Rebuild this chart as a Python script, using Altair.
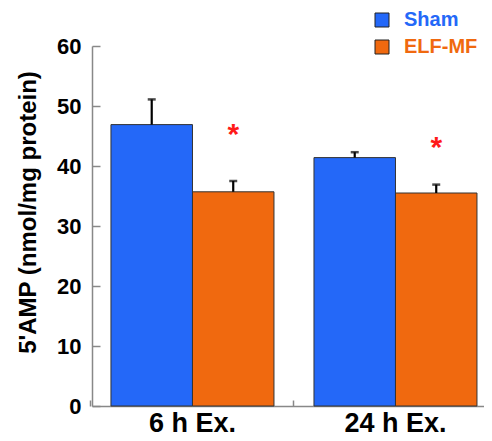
import altair as alt
import pandas as pd

groups = ["6 h Ex.", "24 h Ex."]
series = ["Sham", "ELF-MF"]
sham_mean = [46.9, 41.4]
sham_err = [4.2, 0.9]
elf_mean = [35.7, 35.5]
elf_err = [1.8, 1.4]
sig_y = [46.0, 43.9]

BLUE = "#2468f8"
ORANGE = "#f0690f"
FONT = "Liberation Sans"

rows = []
for i, g in enumerate(groups):
    rows.append({"group": g, "series": "Sham", "mean": sham_mean[i], "upper": sham_mean[i] + sham_err[i]})
    rows.append({"group": g, "series": "ELF-MF", "mean": elf_mean[i], "upper": elf_mean[i] + elf_err[i]})
df = pd.DataFrame(rows)
sig = pd.DataFrame({"group": groups, "series": ["ELF-MF", "ELF-MF"], "y": sig_y, "t": ["*", "*"]})

x_enc = alt.X(
    "group:N", sort=groups, title=None,
    scale=alt.Scale(paddingInner=0.197, paddingOuter=0.064, align=0.73),
    axis=alt.Axis(
        bandPosition=-0.123, labelAngle=0,
        labelFont=FONT, labelFontSize=27, labelFontWeight="bold", labelColor="black",
        labelPadding=10, labelBaseline="top",
        domainColor="#888888", domainWidth=1.5,
        tickColor="#888888", tickWidth=1.5, tickSize=alt.ExprRef("-6"),
    ),
)
xo = alt.XOffset("series:N", sort=series, scale=alt.Scale(paddingInner=0, paddingOuter=0))
y_scale = alt.Scale(domain=[0, 60], nice=False)

bars = alt.Chart(df).mark_bar(stroke="#333333", strokeWidth=1).encode(
    x=x_enc, xOffset=xo,
    y=alt.Y("mean:Q", scale=y_scale, title="5'AMP (nmol/mg protein)",
            axis=alt.Axis(values=[0, 10, 20, 30, 40, 50, 60], grid=False,
                          labelFont=FONT, labelFontSize=22, labelFontWeight="bold", labelColor="black",
                          labelPadding=19,
                          domainColor="#888888", domainWidth=1.5,
                          tickColor="#888888", tickWidth=1.5, tickSize=alt.ExprRef("-8"),
                          titleFont=FONT, titleFontSize=24, titleFontWeight="bold", titleColor="black",
                          titleAngle=-90, titleX=-64, titleY=166, titleAlign="center", titleBaseline="middle")),
    color=alt.Color("series:N", sort=series,
                    scale=alt.Scale(domain=series, range=[BLUE, ORANGE]),
                    legend=alt.Legend(title=None, orient="none", legendX=280, legendY=-36,
                                      symbolType="square", symbolSize=196, symbolStrokeColor="#222222",
                                      symbolStrokeWidth=1, symbolOpacity=1,
                                      labelFont=FONT, labelFontSize=20, labelFontWeight="bold",
                                      labelColor=alt.ExprRef(f"datum.label == 'Sham' ? '{BLUE}' : '{ORANGE}'"),
                                      labelOffset=12, rowPadding=7, labelLimit=200)),
)

err = alt.Chart(df).mark_rule(color="black", strokeWidth=2.2).encode(
    x=alt.X("group:N", sort=groups), xOffset=xo,
    y=alt.Y("mean:Q", scale=y_scale), y2="upper:Q",
)
cap = alt.Chart(df).mark_tick(color="black", thickness=2.5, size=8, orient="horizontal").encode(
    x=alt.X("group:N", sort=groups), xOffset=xo,
    y=alt.Y("upper:Q", scale=y_scale),
)
stars = alt.Chart(sig).mark_text(color="#ff1a1a", fontSize=30, fontWeight="bold", font=FONT,
                                 baseline="middle", dy=5).encode(
    x=alt.X("group:N", sort=groups), xOffset=alt.XOffset("series:N", sort=series),
    y=alt.Y("y:Q", scale=y_scale), text="t:N",
)

chart = alt.layer(bars, err, cap, stars).properties(
    width=392, height=360,
    autosize=alt.AutoSizeParams(type="none"),
    padding={"left": 84, "top": 38, "right": 0, "bottom": 36},
).configure_view(stroke=None)

chart.save("out.html", embed_options={"renderer": "svg", "actions": False})
